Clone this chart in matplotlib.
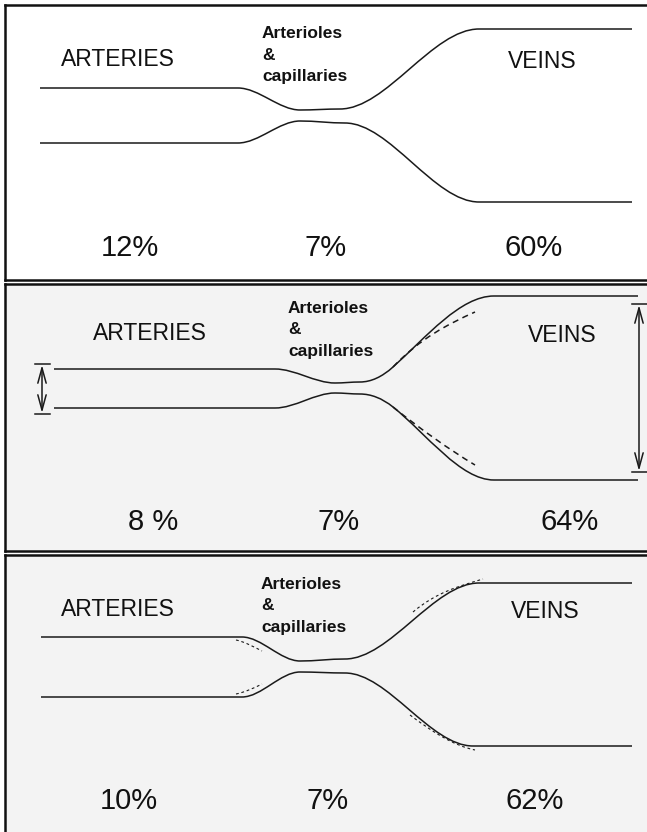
import matplotlib
matplotlib.use('Agg')
import matplotlib.pyplot as plt
from matplotlib import font_manager
from matplotlib.path import Path
from matplotlib.patches import PathPatch

plt.rcParams['font.family'] = ['Liberation Sans', 'DejaVu Sans']

# ─── Data (image pixel coordinates, y grows downward) ───
region_labels = ['ARTERIES', 'Arterioles\n&\ncapillaries', 'VEINS']
pct_1 = ['12%', '7%', '60%']
pct_2 = ['8 %', '7%', '64%']
pct_3 = ['10%', '7%', '62%']

# vessel walls: node x, node y, tangent slope at node
p1_top_x = [40, 238, 300, 340, 479, 632]
p1_top_y = [88, 88, 110, 109, 29, 29]
p1_top_s = [0, 0, 0, 0, 0, 0]
p1_bot_x = [40, 238, 300, 345, 479, 632]
p1_bot_y = [143, 143, 121, 123, 202, 202]
p1_bot_s = [0, 0, 0, 0, 0, 0]

p2_top_x = [54, 275, 335, 360, 393, 494, 638]
p2_top_y = [369, 369, 383, 382, 367, 296, 296]
p2_top_s = [0, 0, 0, 0, -0.9, 0, 0]
p2_bot_x = [54, 275, 335, 360, 393, 494, 638]
p2_bot_y = [408, 408, 393, 394, 407, 480, 480]
p2_bot_s = [0, 0, 0, 0, 0.8, 0, 0]
p2_dash_top = ([393, 475], [367, 312], [-1.05, -0.45])
p2_dash_bot = ([393, 475], [407, 465], [0.8, 0.6])
p2_arrow_left = (42, 364, 414)
p2_arrow_right = (639, 304, 472)

p3_top_x = [41, 242, 300, 345, 479, 632]
p3_top_y = [637, 637, 661, 659, 583, 583]
p3_top_s = [0, 0, 0, 0, 0, 0]
p3_bot_x = [41, 242, 300, 345, 473, 632]
p3_bot_y = [697, 697, 672, 673, 746, 746]
p3_bot_s = [0, 0, 0, 0, 0, 0]
p3_dash = [([413, 483], [612, 579], [-0.85, -0.3]),
           ([410, 475], [715, 750], [0.75, 0.2]),
           ([236, 262], [640, 651], [0.2, 0.5]),
           ([236, 262], [694, 684], [-0.2, -0.5])]

# narrow face for the big percentages if present
try:
    font_manager.findfont('Liberation Sans Narrow', fallback_to_default=False)
    pct_font = dict(family=['Liberation Sans Narrow', 'Liberation Sans'], fontsize=24)
except Exception:
    pct_font = dict(fontsize=21)


def wall(xs, ys, slopes):
    verts = [(xs[0], ys[0])]
    codes = [Path.MOVETO]
    for i in range(len(xs) - 1):
        h = (xs[i + 1] - xs[i]) / 3
        verts += [(xs[i] + h, ys[i] + h * slopes[i]),
                  (xs[i + 1] - h, ys[i + 1] - h * slopes[i + 1]),
                  (xs[i + 1], ys[i + 1])]
        codes += [Path.CURVE4] * 3
    return Path(verts, codes)


W, H = 647, 832
fig = plt.figure(figsize=(W / 100, H / 100), dpi=100)
fig.patch.set_facecolor('white')


def panel(top, bottom, bg, bottom_spine=True):
    ax = fig.add_axes([5 / W, 1 - bottom / H, 650 / W, (bottom - top) / H])
    ax.set_xlim(5, 655)
    ax.set_ylim(bottom, top)
    ax.set_facecolor(bg)
    ax.set_xticks([]); ax.set_yticks([])
    for side in ['left', 'top', 'bottom']:
        ax.spines[side].set_linewidth(1.8)
        ax.spines[side].set_color('#111111')
    ax.spines['right'].set_visible(False)
    ax.spines['bottom'].set_visible(bottom_spine)
    return ax


def labels(ax, art, cap, vein, ypct, xpct, pcts):
    ax.text(art[0], art[1], region_labels[0], ha='center', va='center', fontsize=16.5, color='#111111')
    ax.text(cap[0], cap[1], region_labels[1], ha='left', va='center', fontsize=12.5,
            fontweight='bold', color='#111111', linespacing=1.55)
    ax.text(vein[0], vein[1], region_labels[2], ha='center', va='center', fontsize=16.5, color='#111111')
    for x, t in zip(xpct, pcts):
        ax.text(x, ypct, t, ha='center', va='center', color='#111111', **pct_font)


def solid(ax, xs, ys, ss):
    ax.add_patch(PathPatch(wall(xs, ys, ss), fill=False, lw=1.1, edgecolor='#1a1a1a', capstyle='butt'))


def dashed(ax, d, lw=1.1, dashes=(4, 3)):
    ax.add_patch(PathPatch(wall(*d), fill=False, lw=lw, edgecolor='#1a1a1a', linestyle=(0, dashes)))


def dim_arrow(ax, x, y0, y1, cap=7.5):
    ax.annotate('', xy=(x, y0 + 1), xytext=(x, y1 - 1),
                arrowprops=dict(arrowstyle='<->,head_length=1.1,head_width=0.3', lw=1.1, color='#1a1a1a',
                                shrinkA=0, shrinkB=0))
    ax.plot([x - cap, x + cap], [y0, y0], color='#1a1a1a', lw=1.1)
    ax.plot([x - cap, x + cap], [y1, y1], color='#1a1a1a', lw=1.1)


# ─── Panel 1 ───
ax1 = panel(5, 280, 'white')
solid(ax1, p1_top_x, p1_top_y, p1_top_s)
solid(ax1, p1_bot_x, p1_bot_y, p1_bot_s)
labels(ax1, (118, 60), (262, 55), (542, 61), 248, [130, 326, 534], pct_1)

# ─── Panel 2 ───
ax2 = panel(284, 551, '#f3f3f3')
solid(ax2, p2_top_x, p2_top_y, p2_top_s)
solid(ax2, p2_bot_x, p2_bot_y, p2_bot_s)
dashed(ax2, p2_dash_top)
dashed(ax2, p2_dash_bot)
dim_arrow(ax2, *p2_arrow_left)
dim_arrow(ax2, *p2_arrow_right)
labels(ax2, (150, 333), (288, 330), (562, 335), 522, [153, 339, 570], pct_2)

# ─── Panel 3 ───
ax3 = panel(555, 845, '#f3f3f3', bottom_spine=False)
solid(ax3, p3_top_x, p3_top_y, p3_top_s)
solid(ax3, p3_bot_x, p3_bot_y, p3_bot_s)
for d in p3_dash:
    dashed(ax3, d, lw=0.8, dashes=(2.5, 2.5))
labels(ax3, (118, 610), (261, 606), (545, 611), 801, [129, 328, 535], pct_3)

plt.savefig('out.png', dpi=100)
